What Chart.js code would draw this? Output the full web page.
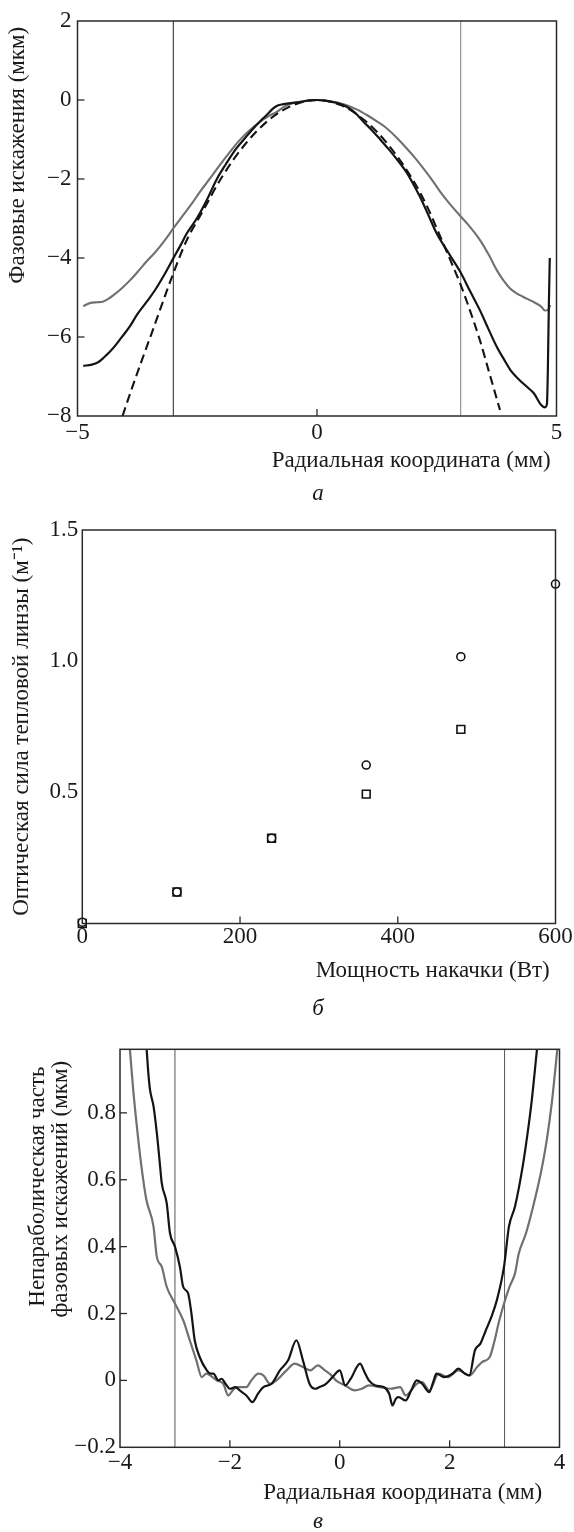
<!DOCTYPE html>
<html>
<head>
<meta charset="utf-8">
<script src="https://cdn.jsdelivr.net/npm/chart.js@4.4.0/dist/chart.umd.min.js"></script>
<style>
  html, body { margin: 0; padding: 0; background: #fff; }
  #page { position: relative; width: 574px; height: 1532px; overflow: hidden; }
  canvas { position: absolute; left: 0; }
  .cap { position: absolute; font-family: "Liberation Serif", serif; font-style: italic; font-size: 23px; color: #1a1a1a; transform: translate(-50%, -50%); line-height: 1; }
</style>
</head>
<body>
<div id="page">
  <canvas id="cA" width="574" height="480" style="top:0px"></canvas>
  <canvas id="cB" width="574" height="500" style="top:500px"></canvas>
  <canvas id="cC" width="574" height="522" style="top:1010px"></canvas>
  <div class="cap" style="left:318px; top:492px">а</div>
  <div class="cap" style="left:318px; top:1007px">б</div>
  <div class="cap" style="left:318px; top:1520px">в</div>
</div>
<script>
// ---------- Panel а: phase distortions ----------
const aBlackX = [-4.88,-4.70,-4.57,-4.45,-4.32,-4.20,-4.08,-3.90,-3.76,-3.55,-3.38,-3.20,-3.00,-2.85,-2.72,-2.51,-2.30,-2.09,-1.90,-1.68,-1.50,-1.33,-1.18,-1.05,-0.92,-0.82,-0.72,-0.55,-0.35,-0.15,0.00,0.20,0.40,0.62,0.80,0.97,1.15,1.32,1.50,1.70,1.87,2.02,2.15,2.32,2.50,2.75,2.99,3.20,3.40,3.58,3.75,3.92,4.05,4.22,4.40,4.53,4.68,4.76,4.80,4.82,4.84,4.86];
const aBlackY = [-6.73,-6.70,-6.64,-6.52,-6.37,-6.20,-6.01,-5.72,-5.44,-5.10,-4.81,-4.45,-4.01,-3.68,-3.38,-3.00,-2.53,-2.00,-1.62,-1.22,-0.96,-0.72,-0.53,-0.38,-0.22,-0.14,-0.11,-0.08,-0.05,-0.01,0.00,-0.02,-0.07,-0.17,-0.33,-0.55,-0.77,-1.00,-1.25,-1.55,-1.83,-2.15,-2.45,-2.90,-3.38,-3.88,-4.35,-4.85,-5.32,-5.80,-6.24,-6.60,-6.86,-7.08,-7.28,-7.43,-7.72,-7.78,-7.70,-6.80,-5.20,-4.00];
const aGrayX = [-4.88,-4.80,-4.70,-4.58,-4.46,-4.35,-4.25,-4.08,-3.90,-3.73,-3.56,-3.42,-3.28,-3.14,-3.00,-2.79,-2.60,-2.44,-2.23,-2.03,-1.82,-1.61,-1.40,-1.19,-1.00,-0.84,-0.70,-0.56,-0.30,0.00,0.30,0.62,0.85,1.04,1.25,1.46,1.67,1.87,2.05,2.22,2.40,2.57,2.75,2.95,3.15,3.40,3.60,3.75,3.90,4.03,4.15,4.30,4.50,4.68,4.76,4.82,4.87];
const aGrayY = [-5.22,-5.17,-5.13,-5.12,-5.10,-5.03,-4.94,-4.77,-4.56,-4.33,-4.09,-3.91,-3.71,-3.49,-3.25,-2.91,-2.60,-2.32,-1.98,-1.65,-1.32,-1.01,-0.76,-0.55,-0.40,-0.30,-0.18,-0.10,-0.03,0.00,-0.04,-0.13,-0.25,-0.38,-0.54,-0.72,-0.96,-1.22,-1.47,-1.73,-2.02,-2.32,-2.60,-2.88,-3.15,-3.54,-3.95,-4.30,-4.58,-4.77,-4.88,-4.98,-5.10,-5.23,-5.33,-5.32,-5.19];
const aFitX = [-4.06,-3.85,-3.63,-3.45,-3.28,-3.00,-2.72,-2.40,-2.00,-1.50,-1.00,-0.50,0.00,0.50,1.00,1.50,2.00,2.30,2.57,2.80,3.00,3.20,3.40,3.60,3.82];
const aFitY = [-8.00,-7.25,-6.50,-5.90,-5.32,-4.39,-3.55,-2.85,-1.98,-1.12,-0.50,-0.13,0.00,-0.13,-0.52,-1.15,-2.02,-2.70,-3.45,-4.10,-4.68,-5.35,-6.08,-6.92,-7.85];
const aApertureX = [-3, 3];
const aRangeX = [-5, 5];
const aRangeY = [-8, 2];

// ---------- Panel б: thermal lens power ----------
const bPowerCircles = [0, 120, 240, 360, 480, 600];
const bLensCircles = [0.005, 0.12, 0.325, 0.604, 1.017, 1.294];
const bPowerSquares = [0, 120, 240, 360, 480];
const bLensSquares = [0.0, 0.12, 0.325, 0.493, 0.740];
const bRangeX = [0, 600];
const bRangeY = [0, 1.5];

// ---------- Panel в: non-parabolic part ----------
const cBlackX = [-3.515,-3.485,-3.455,-3.39,-3.33,-3.27,-3.24,-3.15,-3.09,-3.00,-2.91,-2.85,-2.76,-2.70,-2.64,-2.55,-2.42,-2.35,-2.30,-2.21,-2.15,-2.08,-2.00,-1.90,-1.82,-1.70,-1.59,-1.49,-1.39,-1.24,-1.09,-0.94,-0.79,-0.67,-0.55,-0.45,-0.37,-0.25,-0.13,0.00,0.10,0.20,0.37,0.45,0.53,0.65,0.80,0.90,0.96,1.02,1.07,1.20,1.30,1.40,1.50,1.63,1.70,1.76,1.90,2.05,2.16,2.28,2.36,2.46,2.56,2.66,2.76,2.86,2.99,3.08,3.19,3.33,3.42,3.49,3.59];
const cBlackY = [0.99,0.92,0.87,0.82,0.74,0.64,0.59,0.53,0.44,0.40,0.34,0.28,0.26,0.20,0.12,0.07,0.03,0.02,0.02,0.00,0.005,-0.01,-0.025,-0.02,-0.03,-0.045,-0.065,-0.04,-0.02,-0.01,0.03,0.06,0.12,0.06,-0.01,-0.025,-0.02,-0.01,0.01,0.03,-0.015,0.005,0.05,0.025,0.00,-0.015,-0.02,-0.04,-0.075,-0.055,-0.05,-0.06,-0.03,0.00,-0.01,-0.035,-0.005,0.02,0.01,0.02,0.035,0.02,0.015,0.09,0.11,0.15,0.19,0.24,0.34,0.46,0.52,0.64,0.74,0.83,0.99];
const cGrayX = [-3.82,-3.76,-3.70,-3.61,-3.52,-3.39,-3.33,-3.24,-3.15,-3.00,-2.85,-2.73,-2.61,-2.51,-2.43,-2.36,-2.24,-2.12,-2.03,-1.95,-1.88,-1.70,-1.61,-1.48,-1.39,-1.27,-1.15,-0.97,-0.82,-0.67,-0.53,-0.40,-0.27,-0.15,-0.07,0.10,0.27,0.40,0.53,0.73,0.93,1.10,1.20,1.30,1.40,1.50,1.63,1.80,1.97,2.16,2.36,2.50,2.59,2.73,2.82,2.89,2.99,3.09,3.19,3.26,3.39,3.52,3.66,3.76,3.86,3.96];
const cGrayY = [0.99,0.87,0.77,0.64,0.54,0.46,0.37,0.34,0.28,0.23,0.18,0.12,0.06,0.01,0.02,0.015,0.00,-0.01,-0.045,-0.03,-0.02,-0.02,0.00,0.02,0.015,-0.01,0.00,0.03,0.05,0.04,0.03,0.045,0.03,0.015,0.00,-0.015,-0.03,-0.025,-0.015,-0.02,-0.025,-0.02,-0.045,-0.03,-0.01,-0.005,-0.03,0.02,0.01,0.03,0.015,0.04,0.055,0.07,0.12,0.17,0.23,0.28,0.32,0.38,0.44,0.52,0.62,0.71,0.83,0.99];
const cApertureX = [-3, 3];
const cRangeX = [-4, 4];
const cRangeY = [-0.2, 0.99];

// ---------- helpers ----------
const SERIF = '"Liberation Serif", "Times New Roman", serif';
const FS = 23;
const TXT = '#1a1a1a';
const minus = s => String(s).replace('-', '\u2212');
const pts = (xs, ys) => xs.map((x, i) => ({ x: x, y: ys[i] }));

const framePlugin = {
  id: 'frame',
  afterDatasetsDraw(chart, args, opts) {
    const ctx = chart.ctx, a = chart.chartArea;
    ctx.save();
    ctx.strokeStyle = '#2a2a2a';
    ctx.lineWidth = 1.5;
    ctx.strokeRect(a.left, a.top, a.right - a.left, a.bottom - a.top);
    ctx.lineWidth = 1.3;
    const len = 7;
    if (opts.xTicks) {
      const sx = chart.scales.x;
      sx.ticks.forEach(t => {
        const p = sx.getPixelForValue(t.value);
        if (p > a.left + 2 && p < a.right - 2) {
          ctx.beginPath(); ctx.moveTo(p, a.bottom); ctx.lineTo(p, a.bottom - len); ctx.stroke();
        }
      });
    }
    if (opts.yTicks) {
      const sy = chart.scales.y;
      sy.ticks.forEach(t => {
        const p = sy.getPixelForValue(t.value);
        if (p > a.top + 2 && p < a.bottom - 2) {
          ctx.beginPath(); ctx.moveTo(a.left, p); ctx.lineTo(a.left + len, p); ctx.stroke();
        }
      });
    }
    ctx.restore();
  }
};

function vLines(xs, yr, colors) {
  return xs.map((x, i) => ({
    data: [{ x: x, y: yr[0] }, { x: x, y: yr[1] }],
    showLine: true, borderColor: colors[i], borderWidth: 1, pointRadius: 0, order: 10
  }));
}

function baseOptions(cfg) {
  return {
    responsive: false, animation: false, devicePixelRatio: 1,
    layout: { padding: { top: cfg.padTop, right: cfg.padRight, left: 0, bottom: 0 } },
    plugins: { legend: { display: false }, tooltip: { enabled: false }, frame: cfg.frame },
    scales: {
      x: {
        type: 'linear', min: cfg.xr[0], max: cfg.xr[1],
        grid: { display: false, drawTicks: false },
        border: { display: false },
        ticks: { stepSize: cfg.xStep, padding: cfg.xPad, color: TXT, font: { family: SERIF, size: FS }, includeBounds: false, callback: cfg.xFmt, maxRotation: 0 },
        title: { display: true, text: cfg.xTitle, align: 'end', color: TXT, font: { family: SERIF, size: FS, lineHeight: 1.2 }, padding: { top: 0, bottom: cfg.xTitlePad } },
        afterFit: s => { s.height = cfg.xH; }
      },
      y: {
        type: 'linear', min: cfg.yr[0], max: cfg.yr[1],
        grid: { display: false, drawTicks: false },
        border: { display: false },
        ticks: { stepSize: cfg.yStep, padding: cfg.yPad, color: TXT, font: { family: SERIF, size: FS }, includeBounds: false, callback: cfg.yFmt },
        title: { display: true, text: cfg.yTitle, align: cfg.yAlign, color: TXT, font: { family: SERIF, size: FS, lineHeight: cfg.yLH || 1.2 }, padding: { top: cfg.yTitlePad, bottom: 0 } },
        afterFit: s => { s.width = cfg.yW; }
      }
    }
  };
}

// ---------- Chart а ----------
new Chart(document.getElementById('cA'), {
  type: 'scatter',
  data: {
    datasets: [
      { data: pts(aBlackX, aBlackY), showLine: true, borderColor: '#141414', borderWidth: 2.2, pointRadius: 0, cubicInterpolationMode: 'monotone', order: 1 },
      { data: pts(aFitX, aFitY), showLine: true, borderColor: '#141414', borderWidth: 2.1, borderDash: [9, 5], pointRadius: 0, cubicInterpolationMode: 'monotone', order: 2 },
      { data: pts(aGrayX, aGrayY), showLine: true, borderColor: '#707070', borderWidth: 2.1, pointRadius: 0, cubicInterpolationMode: 'monotone', order: 3 }
    ].concat(vLines(aApertureX, aRangeY, ['#222', '#808080']))
  },
  options: baseOptions({
    padTop: 21, padRight: 17.5, xr: aRangeX, yr: aRangeY, xStep: 5, yStep: 2,
    xPad: 2.7, yPad: 6, xH: 64, yW: 77.5,
    xFmt: v => minus(v), yFmt: v => minus(v),
    xTitle: 'Радиальная координата (мм)\u00a0', xTitlePad: 5.5,
    yTitle: 'Фазовые искажения (мкм)\u00a0', yAlign: 'end', yTitlePad: 3.7,
    frame: { xTicks: true, yTicks: true }
  }),
  plugins: [framePlugin]
});

// ---------- Chart б ----------
new Chart(document.getElementById('cB'), {
  type: 'scatter',
  data: {
    datasets: [
      { data: pts(bPowerCircles, bLensCircles), pointStyle: 'circle', pointRadius: 4, borderWidth: 1.6, borderColor: '#111', backgroundColor: '#fff', clip: false, order: 1 },
      { data: pts(bPowerSquares, bLensSquares), pointStyle: 'rect', pointRadius: 5.5, borderWidth: 1.6, borderColor: '#111', backgroundColor: '#fff', clip: false, order: 2 }
    ]
  },
  options: baseOptions({
    padTop: 30, padRight: 18.5, xr: bRangeX, yr: bRangeY, xStep: 200, yStep: 0.5,
    xPad: 0, yPad: 4, xH: 76.5, yW: 82.3,
    xFmt: v => String(v), yFmt: v => (v === 0 ? '' : v.toFixed(1)),
    xTitle: 'Мощность накачки (Вт)\u00a0', xTitlePad: 15.2,
    yTitle: 'Оптическая сила тепловой линзы (м\u207B\u00B9)', yAlign: 'center', yTitlePad: 8.2,
    frame: { xTicks: true, yTicks: false }
  }),
  plugins: [framePlugin]
});

// ---------- Chart в ----------
new Chart(document.getElementById('cC'), {
  type: 'scatter',
  data: {
    datasets: [
      { data: pts(cBlackX, cBlackY), showLine: true, borderColor: '#141414', borderWidth: 2.2, pointRadius: 0, cubicInterpolationMode: 'monotone', order: 1 },
      { data: pts(cGrayX, cGrayY), showLine: true, borderColor: '#707070', borderWidth: 2.2, pointRadius: 0, cubicInterpolationMode: 'monotone', order: 2 }
    ].concat(vLines(cApertureX, [cRangeY[0], 1.2], ['#555', '#555']))
  },
  options: baseOptions({
    padTop: 39.3, padRight: 14.5, xr: cRangeX, yr: cRangeY, xStep: 2, yStep: 0.2,
    xPad: 1.4, yPad: 4, xH: 84.7, yW: 120,
    xFmt: v => minus(v),
    yFmt: v => (Math.abs(v) < 1e-9 ? '0' : (v > 0.95 ? '' : minus(v.toFixed(1)))),
    xTitle: 'Радиальная координата (мм)\u00a0\u00a0\u00a0', xTitlePad: 25.2,
    yTitle: ['Непараболическая часть\u00a0\u00a0\u00a0', 'фазовых искажений (мкм)\u00a0\u00a0'], yAlign: 'end', yTitlePad: 25.75, yLH: 1.02,
    frame: { xTicks: true, yTicks: true }
  }),
  plugins: [framePlugin]
});
</script>
</body>
</html>
